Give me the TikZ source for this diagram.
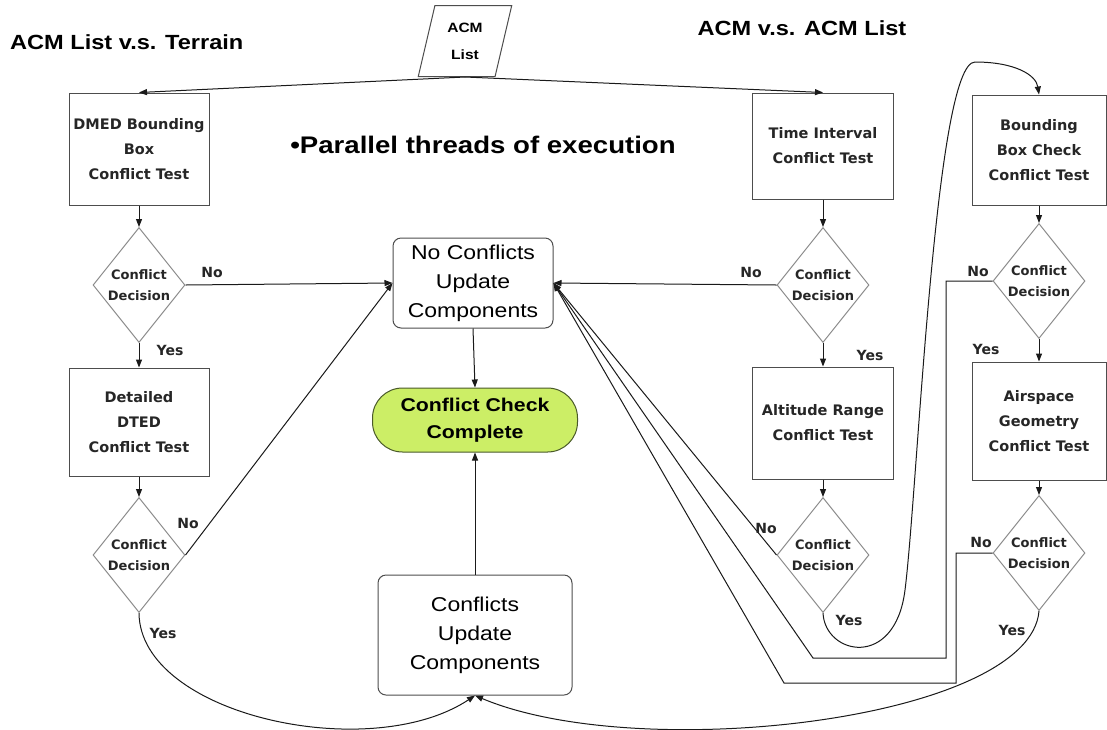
\documentclass[tikz,border=0pt]{standalone}
\usepackage{fontspec}
\usetikzlibrary{shapes.geometric,arrows.meta}
\newfontfamily\widesans[FakeStretch=1.15]{Liberation Sans}
\newfontfamily\boxsans{DejaVu Sans}
\definecolor{termfill}{HTML}{CCEE66}
\definecolor{termline}{HTML}{4A5A2A}
\definecolor{boxline}{HTML}{4D4D4D}
\definecolor{dialine}{HTML}{8C8C8C}
\definecolor{wire}{HTML}{1A1A1A}
\begin{document}
\begin{tikzpicture}[x=1pt,y=-1pt,
  testbox/.style={rectangle, draw=boxline, line width=1pt, inner sep=0pt, align=center,
    font=\boxsans\bfseries\fontsize{14.5}{25}\selectfont, text=black!85},
  decision/.style={diamond, draw=dialine, line width=1pt, inner sep=0pt,
    minimum width=92pt, minimum height=115pt},
  dtext/.style={align=center, inner sep=0pt, text=black!85,
    font=\boxsans\bfseries\fontsize{13}{21}\selectfont},
  update/.style={rectangle, rounded corners=8pt, draw=boxline, line width=1pt, inner sep=0pt,
    align=center, font=\widesans\fontsize{20}{29}\selectfont},
  terminal/.style={rectangle, rounded corners=30pt, draw=termline, fill=termfill, line width=1pt,
    inner sep=0pt, align=center, font=\widesans\bfseries\fontsize{18.5}{27}\selectfont},
  heading/.style={inner sep=0pt, font=\widesans\bfseries\fontsize{20.5}{24}\selectfont},
  flow/.style={draw=wire, line width=1pt, -{Triangle[length=8pt,width=6pt]}},
  lab/.style={inner sep=0pt, text=black!85, font=\boxsans\bfseries\fontsize{14}{16}\selectfont}
]
\fill[white] (0,0) rectangle (1107,729);
\useasboundingbox (0,0) rectangle (1107,729);

% headings
\node[heading, anchor=west] (hterrain) at (10,42) {ACM List v.s. Terrain};
\node[heading] (hacm) at (802,28) {ACM v.s. ACM List};
\node[heading, font=\widesans\bfseries\fontsize{24}{28}\selectfont] (hpar) at (483,145)
  {•Parallel threads of execution};

% input list
\node[trapezium, trapezium left angle=75, trapezium right angle=105, trapezium stretches=true,
  draw=boxline, line width=1pt, minimum width=94pt, minimum height=71pt, inner sep=0pt,
  align=center, font=\widesans\bfseries\fontsize{13.5}{27}\selectfont] (acm) at (465,41) {ACM\\List};

% terrain branch
\node[testbox, minimum width=140pt, minimum height=112pt] (dmed) at (139,149)
  {DMED Bounding\\Box\\Conflict Test};
\node[decision, label={[dtext]center:Conflict\\Decision}] (d1) at (139,285) {};
\node[testbox, minimum width=140pt, minimum height=108pt] (dted) at (139,422)
  {Detailed\\DTED\\Conflict Test};
\node[decision, label={[dtext]center:Conflict\\Decision}] (d2) at (139,555) {};

% time / altitude branch
\node[testbox, minimum width=141pt, minimum height=106pt] (time) at (823,146)
  {Time Interval\\Conflict Test};
\node[decision, label={[dtext]center:Conflict\\Decision}] (d3) at (823,285) {};
\node[testbox, minimum width=141pt, minimum height=112pt] (alt) at (823,423)
  {Altitude Range\\Conflict Test};
\node[decision, label={[dtext]center:Conflict\\Decision}] (d4) at (823,555) {};

% bounding box / airspace branch
\node[testbox, minimum width=134pt, minimum height=110pt] (bb) at (1039,150)
  {Bounding\\Box Check\\Conflict Test};
\node[decision, label={[dtext]center:Conflict\\Decision}] (d5) at (1039,281) {};
\node[testbox, minimum width=134pt, minimum height=118pt] (air) at (1039,421)
  {Airspace\\Geometry\\Conflict Test};
\node[decision, label={[dtext]center:Conflict\\Decision}] (d6) at (1039,553) {};

% results
\node[update, minimum width=160pt, minimum height=90pt] (noc) at (473,283)
  {No Conflicts\\Update\\Components};
\node[terminal, minimum width=205pt, minimum height=64pt] (done) at (475,420)
  {Conflict Check\\Complete};
\node[update, minimum width=194pt, minimum height=120pt] (conf) at (475,635)
  {Conflicts\\Update\\Components};

% distribution of the list
\draw[flow] (acm.south) -- (dmed.north);
\draw[flow] (acm.south) -- (time.north);

% terrain flow
\draw[flow] (dmed.south) -- (d1.north);
\draw[flow] (d1.east) -- (noc.west);
\draw[flow] (d1.south) -- (dted.north);
\draw[flow] (dted.south) -- (d2.north);
\draw[flow] (d2.east) -- (noc.west);
\draw[flow] (d2.south) .. controls (140,715) and (370,765) .. (conf.south);

% time / altitude flow
\draw[flow] (time.south) -- (d3.north);
\draw[flow] (d3.west) -- (noc.east);
\draw[flow] (d3.south) -- (alt.north);
\draw[flow] (alt.south) -- (d4.north);
\draw[flow] (d4.west) -- (noc.east);
\draw[flow] (d4.south) .. controls (825,655) and (895,670) .. (905,590)
  .. controls (918,486) and (935,62) .. (975,62)
  .. controls (1015,62) and (1036,75) .. (bb.north);

% bounding box / airspace flow
\draw[flow] (bb.south) -- (d5.north);
\draw[flow] (d5.west) -| (946,658) -- (813,658) -- (noc.east);
\draw[flow] (d5.south) -- (air.north);
\draw[flow] (air.south) -- (d6.north);
\draw[flow] (d6.west) -| (956,683) -- (784,683) -- (noc.east);
\draw[flow] (d6.south) .. controls (1030,720) and (640,765) .. (conf.south);

% completion
\draw[flow] (noc.south) -- (done.north);
\draw[flow] (conf.north) -- (done.south);

% branch labels
\node[lab] (n1) at (212,272) {No};
\node[lab] (y1) at (170,350) {Yes};
\node[lab] (n2) at (188,523) {No};
\node[lab] (y2) at (163,633) {Yes};
\node[lab] (n3) at (751,272) {No};
\node[lab] (y3) at (870,355) {Yes};
\node[lab] (n4) at (766,528) {No};
\node[lab] (y4) at (849,620) {Yes};
\node[lab] (n5) at (978,271) {No};
\node[lab] (y5) at (986,349) {Yes};
\node[lab] (n6) at (981,542) {No};
\node[lab] (y6) at (1012,630) {Yes};
\end{tikzpicture}
\end{document}
